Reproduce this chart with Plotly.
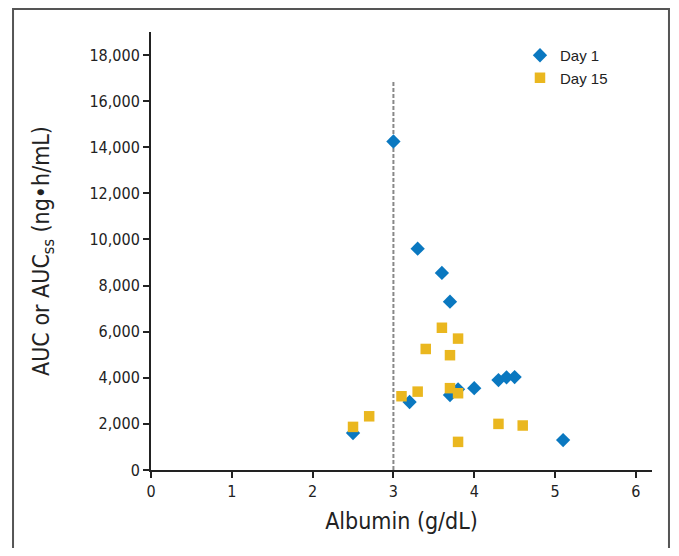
import plotly.graph_objects as go

day1_x = [3.0, 3.3, 3.6, 3.7, 3.2, 3.7, 3.8, 4.0, 4.3, 4.4, 4.5, 2.5, 5.1]
day1_y = [14250, 9600, 8550, 7300, 2950, 3250, 3500, 3550, 3900, 4020, 4030, 1600, 1300]

day15_x = [2.5, 2.7, 3.1, 3.3, 3.4, 3.6, 3.8, 3.7, 3.7, 3.8, 3.8, 4.3, 4.6]
day15_y = [1870, 2330, 3200, 3400, 5250, 6170, 5700, 4980, 3550, 3330, 1220, 2000, 1930]

x_ticks = [0, 1, 2, 3, 4, 5, 6]
y_ticks = list(range(0, 18001, 2000))
cutoff_x = 3
cutoff_top = 16830

BLUE = "#0a78c0"
GOLD = "#eab71f"
COND = "Liberation Sans Narrow, DejaVu Sans Condensed, Arial Narrow, sans-serif"

fig = go.Figure()
fig.add_trace(go.Scatter(x=[cutoff_x, cutoff_x], y=[0, cutoff_top], mode="lines",
                         line=dict(color="#888888", width=2, dash="4px,2px"),
                         showlegend=False, hoverinfo="skip"))
fig.add_trace(go.Scatter(x=day1_x, y=day1_y, mode="markers", name="Day 1",
                         marker=dict(symbol="diamond", size=11, color=BLUE)))
fig.add_trace(go.Scatter(x=day15_x, y=day15_y, mode="markers", name="Day 15",
                         marker=dict(symbol="square", size=10.5, color=GOLD)))

# frame around the figure (right edge just inside the figure width)
fig.add_shape(type="rect", xref="paper", yref="paper",
              x0=-0.2754, x1=1.0339, y0=-0.4, y1=1.0525,
              line=dict(color="#555555", width=2), layer="below")

fig.update_layout(
    width=663, height=540,
    margin=dict(l=143, r=19, t=24, b=78),
    paper_bgcolor="white", plot_bgcolor="white",
    font=dict(family=COND, color="#222222"),
    legend=dict(x=0.7365, y=0.984, xanchor="left", yanchor="top",
                font=dict(family="Liberation Sans, Arial, sans-serif", size=15, color="#222222"),
                bgcolor="rgba(0,0,0,0)", tracegroupgap=0),
    xaxis=dict(range=[0, 6.2], tickvals=x_ticks, ticktext=[str(v) for v in x_ticks],
               showgrid=False, zeroline=False, showline=True, linecolor="#222222", linewidth=2,
               ticks="outside", ticklen=6, tickcolor="#222222", tickwidth=1.5,
               tickfont=dict(size=16, family=COND),
               title=dict(text="Albumin (g/dL)", font=dict(size=23, family=COND), standoff=13)),
    yaxis=dict(range=[0, 19000], tickvals=y_ticks, ticktext=[f"{v:,}" for v in y_ticks],
               showgrid=False, zeroline=False, showline=True, linecolor="#222222", linewidth=2,
               ticks="outside", ticklen=6, tickcolor="#222222", tickwidth=1.5,
               tickfont=dict(size=16, family=COND),
               title=dict(text="AUC or AUC<sub>ss</sub> (ng•h/mL)", font=dict(size=23, family=COND), standoff=33)),
)

fig.write_html("out.html")
